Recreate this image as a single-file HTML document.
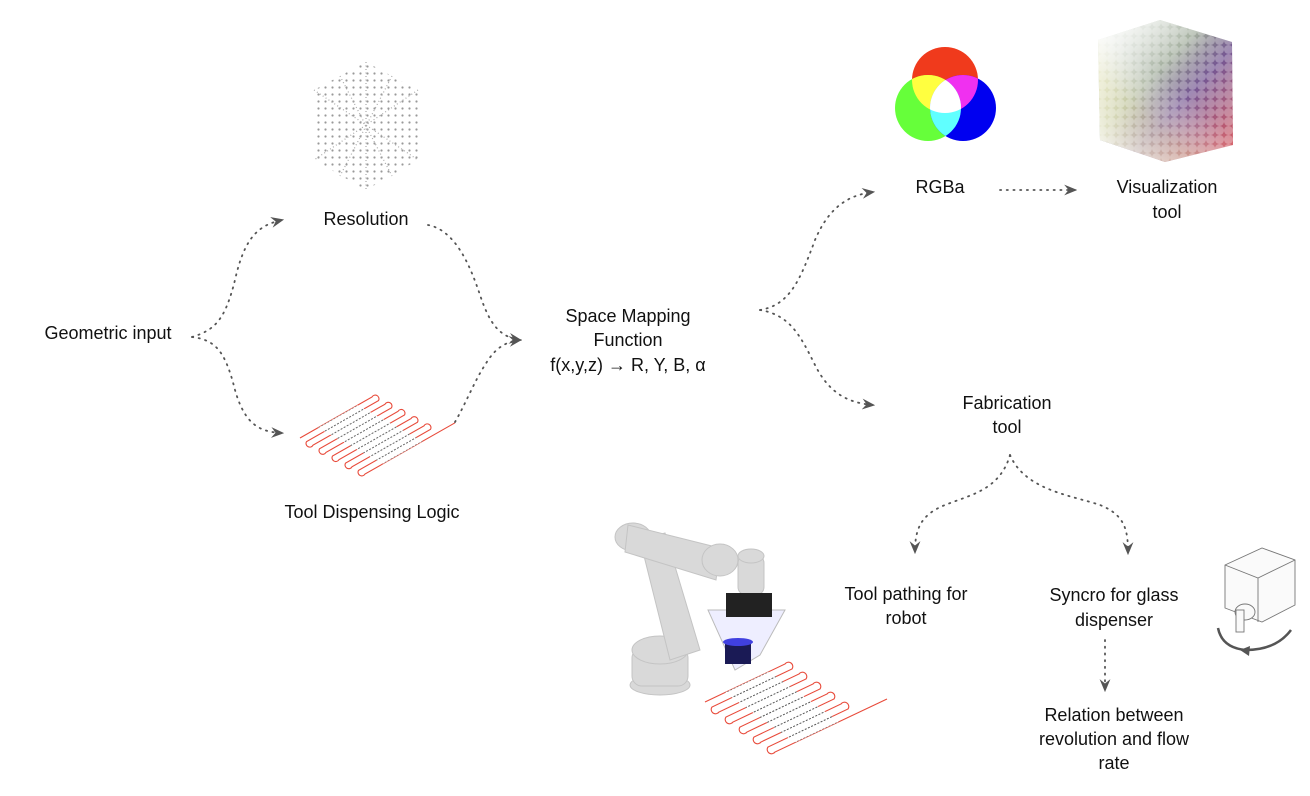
<!DOCTYPE html>
<html><head><meta charset="utf-8"><style>
html,body{margin:0;padding:0;background:#fff}
svg{display:block}
text{font-family:"Liberation Sans",sans-serif;font-size:18px;fill:#111}
.c{fill:none;stroke:#555;stroke-width:1.8;stroke-dasharray:1.2 5.5;stroke-linecap:round}
</style></head><body>
<svg width="1310" height="796" viewBox="0 0 1310 796" xmlns="http://www.w3.org/2000/svg">
<defs>
<marker id="a" viewBox="0 0 12 10" refX="10" refY="5" markerWidth="13" markerHeight="11" markerUnits="userSpaceOnUse" orient="auto">
<path d="M0,0 L12,5 L0,10 L4,5 Z" fill="#555"/></marker>
<clipPath id="cr"><circle cx="945" cy="80" r="33"/></clipPath>
<clipPath id="cg"><circle cx="928" cy="108" r="33"/></clipPath>
<pattern id="dots" width="9" height="9" patternUnits="userSpaceOnUse"><circle cx="4.5" cy="4.5" r="4.5" fill="#fff" fill-opacity="0.3"/></pattern>
<linearGradient id="cube1" x1="0" y1="0" x2="1" y2="1">
<stop offset="0" stop-color="#eef2ea"/><stop offset="0.4" stop-color="#7f8f78"/><stop offset="0.6" stop-color="#5e3a80"/><stop offset="1" stop-color="#e04040"/></linearGradient>
<linearGradient id="cube2" x1="0" y1="0" x2="1" y2="1">
<stop offset="0" stop-color="#fff" stop-opacity="0.9"/><stop offset="0.5" stop-color="#fff" stop-opacity="0"/></linearGradient>
<linearGradient id="cube3" x1="0" y1="1" x2="0.5" y2="0.4">
<stop offset="0" stop-color="#fff" stop-opacity="1"/><stop offset="0.6" stop-color="#f6f0b0" stop-opacity="0.4"/><stop offset="1" stop-color="#fff" stop-opacity="0"/></linearGradient>
<pattern id="grid" width="7" height="7" patternUnits="userSpaceOnUse"><circle cx="3.5" cy="3.5" r="1.1" fill="#999"/></pattern>
<clipPath id="mid1"><polygon points="318,427.75 383,463.75 422.6,441.2 357.6,405.2"/></clipPath>
<clipPath id="mid2"><polygon points="725,692.5 795,742.5 839,721.6 769,671.6"/></clipPath>
<path id="z1" d="M300,438 L372,397 A3.7,3.7 0 0 1 378.5,400.6 L306.5,441.6 A3.7,3.7 0 0 0 313,445.2 L385,404.2 A3.7,3.7 0 0 1 391.5,407.8 L319.5,448.8 A3.7,3.7 0 0 0 326,452.4 L398,411.4 A3.7,3.7 0 0 1 404.5,415 L332.5,456 A3.7,3.7 0 0 0 339,459.6 L411,418.6 A3.7,3.7 0 0 1 417.5,422.2 L345.5,463.2 A3.7,3.7 0 0 0 352,466.8 L424,425.8 A3.7,3.7 0 0 1 430.5,429.4 L358.5,470.4 A3.7,3.7 0 0 0 365,474 L455,422.8"/>
<path id="z2" d="M705,702 L785,664 A4.3,4.3 0 0 1 792,669 L712,707 A4.3,4.3 0 0 0 719,712 L799,674 A4.3,4.3 0 0 1 806,679 L726,717 A4.3,4.3 0 0 0 733,722 L813,684 A4.3,4.3 0 0 1 820,689 L740,727 A4.3,4.3 0 0 0 747,732 L827,694 A4.3,4.3 0 0 1 834,699 L754,737 A4.3,4.3 0 0 0 761,742 L841,704 A4.3,4.3 0 0 1 848,709 L768,747 A4.3,4.3 0 0 0 775,752 L887,699"/>
</defs>

<!-- resolution cube -->
<polygon points="366,62 418,90 418,160 366,190 314,160 314,90" fill="url(#grid)"/>
<g stroke="#aaa" stroke-dasharray="1 2.5" stroke-width="1.2">
<line x1="366" y1="62" x2="366" y2="190"/>
<line x1="314" y1="90" x2="418" y2="160"/>
<line x1="418" y1="90" x2="314" y2="160"/>
<line x1="340" y1="76" x2="392" y2="176"/>
<line x1="392" y1="76" x2="340" y2="176"/>
</g>

<!-- RGB circles -->
<circle cx="945" cy="80" r="33" fill="#f03a1c"/>
<circle cx="928" cy="108" r="33" fill="#66ff3a"/>
<circle cx="963" cy="108" r="33" fill="#0000f0"/>
<g clip-path="url(#cr)"><circle cx="928" cy="108" r="33" fill="#ffff40"/><circle cx="963" cy="108" r="33" fill="#f030f0"/></g>
<g clip-path="url(#cg)"><circle cx="963" cy="108" r="33" fill="#60ffff"/></g>
<g clip-path="url(#cr)"><g clip-path="url(#cg)"><circle cx="963" cy="108" r="33" fill="#fff"/></g></g>

<!-- color cube -->
<polygon points="1160,20 1232,42 1233,145 1165,162 1100,140 1098,40" fill="url(#cube1)" opacity="0.85"/>
<polygon points="1160,20 1232,42 1233,145 1165,162 1100,140 1098,40" fill="url(#cube2)"/>
<polygon points="1160,20 1232,42 1233,145 1165,162 1100,140 1098,40" fill="url(#cube3)"/>
<polygon points="1160,20 1232,42 1233,145 1165,162 1100,140 1098,40" fill="url(#dots)"/>

<!-- dispensing zigzag -->
<g fill="none">
<use href="#z1" stroke="#e84a3a" stroke-width="1.1"/>
<g clip-path="url(#mid1)"><use href="#z1" stroke="#fff" stroke-width="2"/>
<use href="#z1" stroke="#666" stroke-width="1" stroke-dasharray="2 1.5"/></g>
</g>

<!-- robot -->
<g fill="#d9d9d9" stroke="#c4c4c4">
<ellipse cx="660" cy="685" rx="30" ry="10"/>
<rect x="632" y="648" width="56" height="38" rx="10"/>
<ellipse cx="660" cy="650" rx="28" ry="14"/>
<path d="M640,540 L665,533 L700,650 L670,660 Z"/>
<ellipse cx="633" cy="537" rx="18" ry="14"/>
<path d="M628,525 L720,548 L716,580 L625,552 Z"/>
<ellipse cx="720" cy="560" rx="18" ry="16"/>
<rect x="738" y="555" width="26" height="40" rx="8"/>
<ellipse cx="751" cy="556" rx="13" ry="7"/>
</g>
<polygon points="708,610 785,610 760,655 735,670" fill="#eef" stroke="#bbb"/>
<rect x="726" y="593" width="46" height="24" fill="#222"/>
<rect x="725" y="640" width="26" height="24" fill="#1a1a55"/>
<ellipse cx="738" cy="642" rx="15" ry="4" fill="#4040e0"/>
<g fill="none">
<use href="#z2" stroke="#e84a3a" stroke-width="1.1"/>
<g clip-path="url(#mid2)"><use href="#z2" stroke="#fff" stroke-width="2"/>
<use href="#z2" stroke="#555" stroke-width="1" stroke-dasharray="2 1.5"/></g>
</g>

<!-- motor -->
<g fill="#fafafa" stroke="#777" stroke-width="0.9">
<polygon points="1225,565 1262,548 1295,560 1295,605 1262,622 1225,608"/>
<polyline points="1225,565 1258,578 1295,560" fill="none"/>
<line x1="1258" y1="578" x2="1258" y2="622"/>
<ellipse cx="1245" cy="612" rx="10" ry="8"/>
<rect x="1236" y="610" width="8" height="22"/>
</g>
<path d="M1218,628 q4,20 28,22 q30,0 45,-20" fill="none" stroke="#555" stroke-width="2.5"/>
<path d="M1250,646 l-10,4 l9,6 z" fill="#555"/>

<!-- connectors -->
<path class="c" d="M192,337 C215,330 225,320 235,280 C245,235 260,225 282,220" marker-end="url(#a)"/>
<path class="c" d="M192,337 C215,340 225,350 235,390 C245,425 260,432 282,433" marker-end="url(#a)"/>
<path class="c" d="M428,225 C455,230 470,265 480,295 C490,325 500,337 520,340" marker-end="url(#a)"/>
<path class="c" d="M455,422 C465,405 475,380 485,365 C495,348 505,342 520,340" marker-end="url(#a)"/>
<path class="c" d="M760,310 C790,305 800,280 815,240 C830,205 850,195 873,192" marker-end="url(#a)"/>
<path class="c" d="M760,310 C790,315 800,335 815,365 C830,395 850,403 873,405" marker-end="url(#a)"/>
<path class="c" d="M1000,190 L1075,190" marker-end="url(#a)"/>
<path class="c" d="M1010,455 C1000,490 970,495 945,505 C920,515 915,530 915,552" marker-end="url(#a)"/>
<path class="c" d="M1010,455 C1025,490 1070,495 1100,505 C1125,515 1128,530 1128,553" marker-end="url(#a)"/>
<path class="c" d="M1105,640 L1105,690" marker-end="url(#a)"/>

<!-- labels -->
<text x="108" y="339" text-anchor="middle">Geometric input</text>
<text x="366" y="225" text-anchor="middle">Resolution</text>
<text x="372" y="518" text-anchor="middle">Tool Dispensing Logic</text>
<text x="628" y="322" text-anchor="middle">Space Mapping</text>
<text x="628" y="346" text-anchor="middle">Function</text>
<text x="628" y="371" text-anchor="middle">f(x,y,z) → R, Y, B, α</text>
<text x="940" y="193" text-anchor="middle">RGBa</text>
<text x="1167" y="193" text-anchor="middle">Visualization</text>
<text x="1167" y="218" text-anchor="middle">tool</text>
<text x="1007" y="409" text-anchor="middle">Fabrication</text>
<text x="1007" y="433" text-anchor="middle">tool</text>
<text x="906" y="600" text-anchor="middle">Tool pathing for</text>
<text x="906" y="624" text-anchor="middle">robot</text>
<text x="1114" y="601" text-anchor="middle">Syncro for glass</text>
<text x="1114" y="626" text-anchor="middle">dispenser</text>
<text x="1114" y="721" text-anchor="middle">Relation between</text>
<text x="1114" y="745" text-anchor="middle">revolution and flow</text>
<text x="1114" y="769" text-anchor="middle">rate</text>
</svg>
</body></html>
